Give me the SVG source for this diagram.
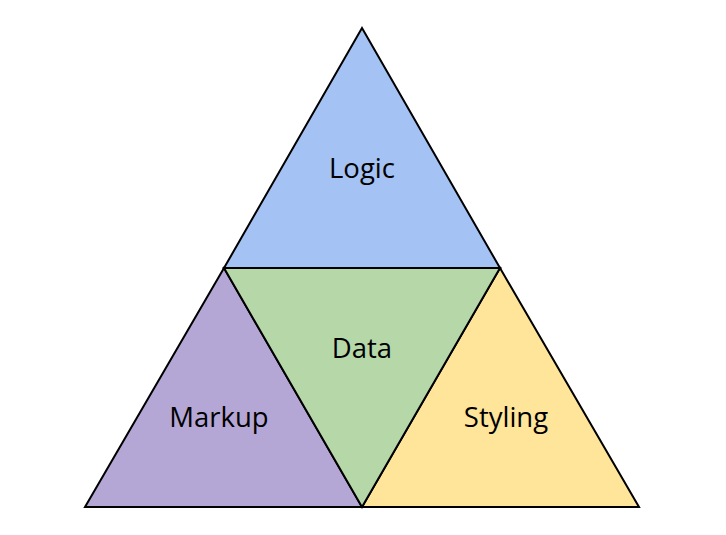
<svg xmlns="http://www.w3.org/2000/svg" width="726" height="535" viewBox="0 0 726 535">
<style>
.t{stroke:#000;stroke-width:2;stroke-linejoin:miter}
.l{font-family:"Open Sans","Noto Sans",sans-serif;font-size:27.5px;fill:#000;text-anchor:middle}
</style>
<rect width="726" height="535" fill="#fff"/>
<g id="logic"><polygon class="t" points="362,28 500,268 224,268" fill="#a4c2f4"/><text class="l" x="362" y="178">Logic</text></g>
<g id="markup"><polygon class="t" points="224,268 362,507 85,507" fill="#b4a7d6"/><text class="l" x="219" y="427">Markup</text></g>
<g id="styling"><polygon class="t" points="500,268 639,507 362,507" fill="#ffe599"/><text class="l" x="506" y="427">Styling</text></g>
<g id="data"><polygon class="t" points="224,268 500,268 362,507" fill="#b6d7a8"/><text class="l" x="362" y="358">Data</text></g>
<g id="connectors"></g>
</svg>
